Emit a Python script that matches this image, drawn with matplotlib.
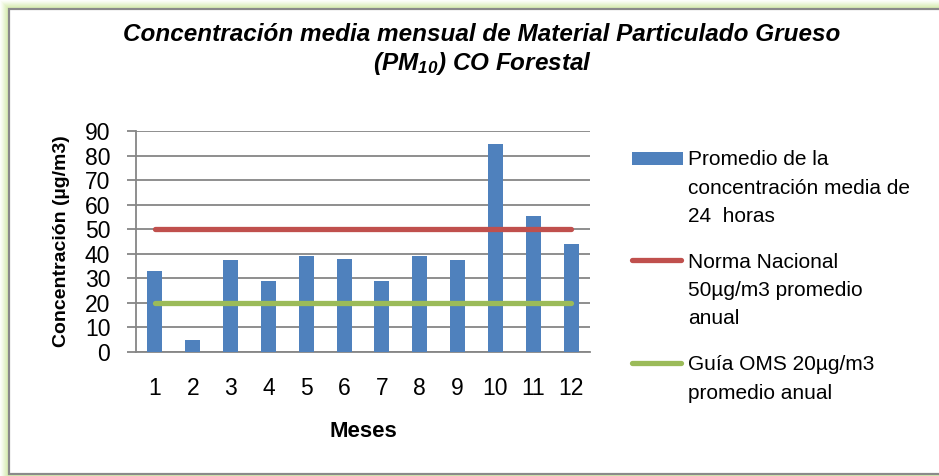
import matplotlib
matplotlib.use("Agg")
import matplotlib.pyplot as plt
from matplotlib.patches import Rectangle
from matplotlib.lines import Line2D
import numpy as np

# datos
meses = [1, 2, 3, 4, 5, 6, 7, 8, 9, 10, 11, 12]
promedio = [33.0, 4.7, 37.5, 28.8, 39.1, 37.8, 29.0, 39.2, 37.5, 84.6, 55.5, 44.0]
norma_nacional = [50] * 12
guia_oms = [20] * 12

etiquetas = ["Promedio de la\nconcentración media de\n24  horas",
             "Norma Nacional\n50µg/m3 promedio\nanual",
             "Guía OMS 20µg/m3\npromedio anual"]
titulo = "Concentración media mensual de Material Particulado Grueso\n(PM$_{\\mathit{10}}$) CO Forestal"

c_barra = '#4F81BD'
c_norma = '#C0504D'
c_oms = '#9BBB59'

plt.rcParams['font.family'] = ['Liberation Sans', 'DejaVu Sans']
plt.rcParams['mathtext.fontset'] = 'custom'
plt.rcParams['mathtext.it'] = 'Liberation Sans:italic:bold'
plt.rcParams['mathtext.rm'] = 'Liberation Sans:italic:bold'

W, H = 939, 476
fig = plt.figure(figsize=(W / 100, H / 100), dpi=100)
fig.patch.set_facecolor('white')

def fx(px):
    return px / W

def fy(py):
    return 1 - py / H

# borde verde difuso + marco gris (por debajo de los ejes)
for i in range(9):
    a = 0.10 + 0.07 * i
    fig.patches.append(Rectangle((i / W, 0), 1, (H - i) / H, transform=fig.transFigure,
                                 facecolor='#cfeaa0', alpha=a * 0.45, edgecolor='none', zorder=-3))
fig.patches.append(Rectangle((9 / W, 2 / H), 1, (H - 11) / H, transform=fig.transFigure,
                             facecolor='white', edgecolor='#8a8a8a', linewidth=1.6, zorder=-2))

ax = fig.add_axes([fx(136), fy(352), 454 / W, 221 / H])
ax.set_facecolor('none')

x = np.array(meses)
ax.bar(x, promedio, width=0.4, color=c_barra, zorder=3)
ax.plot(x, norma_nacional, color=c_norma, lw=3.8, solid_capstyle='round', zorder=4)
ax.plot(x, guia_oms, color=c_oms, lw=3.8, solid_capstyle='round', zorder=4)

ax.set_xlim(0.5, 12.5)
ax.set_ylim(0, 90)
ax.set_yticks(range(0, 91, 10))
ax.set_xticks(x)
ax.set_xticklabels([str(m) for m in meses])
ax.grid(axis='y', color='#868686', lw=1.3, zorder=0)
ax.set_axisbelow(True)
for s in ['top', 'right']:
    ax.spines[s].set_visible(False)
for s in ['left', 'bottom']:
    ax.spines[s].set_color('#868686')
    ax.spines[s].set_linewidth(1.3)
ax.tick_params(axis='y', length=6.5, width=1.3, color='#868686', labelsize=16.5, pad=12)
ax.tick_params(axis='x', length=0, labelsize=16.5, pad=18)

ax.set_xlabel("Meses", fontsize=16, fontweight='bold', labelpad=15)
ax.set_ylabel("Concentración (µg/m3)", fontsize=14, fontweight='bold', labelpad=11)

fig.text(fx(482), fy(23), titulo, ha='center', va='top', fontsize=17.5,
         fontweight='bold', fontstyle='italic', linespacing=1.2)

# leyenda a mano: clave alineada con la primera linea del texto
fila = 28.5
entradas = [(etiquetas[0], 'barra', c_barra, 158),
            (etiquetas[1], 'linea', c_norma, 260),
            (etiquetas[2], 'linea', c_oms, 363)]
for texto, tipo, color, yc in entradas:
    if tipo == 'barra':
        fig.patches.append(Rectangle((fx(632), fy(yc + 6.5)), 51 / W, 13 / H,
                                     transform=fig.transFigure, facecolor=color, edgecolor='none'))
    else:
        fig.lines.append(Line2D([fx(632), fx(681)], [fy(yc), fy(yc)], transform=fig.transFigure,
                                color=color, lw=3.8, solid_capstyle='round'))
    for k, linea in enumerate(texto.split('\n')):
        fig.text(fx(688), fy(yc + k * fila), linea, ha='left', va='center_baseline', fontsize=15)

fig.savefig("out.png", dpi=100)
